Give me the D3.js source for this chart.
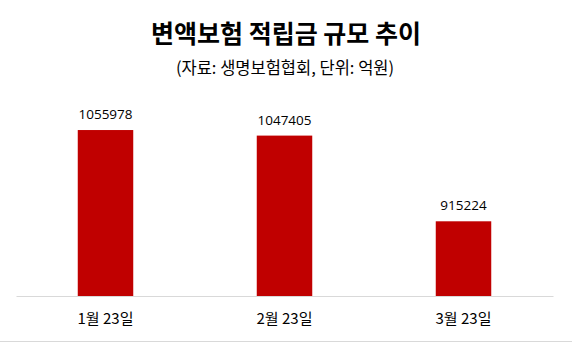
<!DOCTYPE html>
<html><head><meta charset="utf-8">
<script src="https://cdn.jsdelivr.net/npm/d3@7"></script>
<style>body{margin:0;background:#fff}svg{display:block}</style>
</head><body>
<svg id="c" width="572" height="343"></svg>
<script>
const categories = ["1월 23일", "2월 23일", "3월 23일"];
const values = [1055978, 1047405, 915224];
const yDomain = [800000, 1100000];

(function () {
const svg = d3.select("#c");
const W = 572, H = 343;
const mLeft = 16, mRight = 553, base = 296, mTop = 101.5;

const x = d3.scaleBand().domain(categories).range([mLeft, mRight]).paddingInner(0.69).paddingOuter(0.345);
const y = d3.scaleLinear().domain(yDomain).range([base, mTop]);

svg.append("text").attr("x", 286).attr("y", 42.5).attr("text-anchor", "middle")
  .attr("font-family", "'Noto Sans CJK KR'").attr("font-weight", "bold").attr("font-size", 25)
  .attr("fill", "#000").text("변액보험 적립금 규모 추이");
svg.append("text").attr("x", 285).attr("y", 74).attr("text-anchor", "middle")
  .attr("font-family", "'Noto Sans CJK KR'").attr("font-size", 16.5)
  .attr("fill", "#000").text("(자료: 생명보험협회, 단위: 억원)");

const data = categories.map((c, i) => ({c, v: values[i]}));

svg.selectAll("rect.bar").data(data).join("rect").attr("class", "bar")
  .attr("x", d => x(d.c)).attr("width", x.bandwidth())
  .attr("y", d => y(d.v)).attr("height", d => base - y(d.v))
  .attr("fill", "#C00000");

svg.selectAll("text.val").data(data).join("text").attr("class", "val")
  .attr("x", d => x(d.c) + x.bandwidth() / 2).attr("y", d => y(d.v) - 11)
  .attr("text-anchor", "middle").attr("font-family", "'Open Sans', 'Noto Sans'").attr("font-size", 13.5)
  .attr("fill", "#000").text(d => d.v);

const xAxis = svg.append("g").attr("transform", `translate(0,${base})`)
  .call(d3.axisBottom(x).tickSize(0).tickPadding(17));
xAxis.select(".domain").attr("stroke", "#d9d9d9").attr("stroke-width", 1);
xAxis.selectAll("text").attr("font-family", "'Noto Sans CJK KR'").attr("font-size", 15).attr("fill", "#000");

svg.append("line").attr("x1", 0).attr("x2", W).attr("y1", 341.5).attr("y2", 341.5)
  .attr("stroke", "#d9d9d9").attr("stroke-width", 1);
})();
</script>
</body></html>
